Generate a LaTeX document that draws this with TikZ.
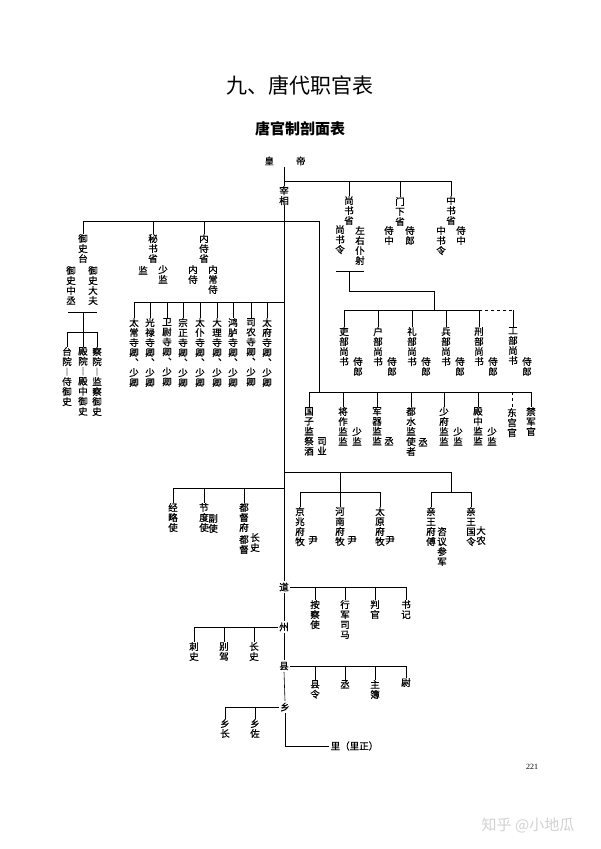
\documentclass[tikz,border=0pt]{standalone}
\usepackage{fontspec}
\setmainfont{Noto Sans CJK SC}
\newfontfamily\chartfont{Noto Sans CJK SC}[FakeBold=0.8]
\newfontfamily\numfont{Liberation Serif}
\tikzset{
  vt/.style={anchor=north, align=center, inner sep=0pt, yshift=5pt,
    font=\chartfont\fontsize{9.5}{10}\selectfont},
  hz/.style={inner sep=1.5pt, font=\chartfont\fontsize{9.5}{10}\selectfont},
  bar/.style={line width=0.6pt},
  trunk/.style={line width=1pt},
}
\begin{document}
\begin{tikzpicture}[x=1pt,y=-1pt]
	\useasboundingbox (0,0) rectangle (600,849);
	\fill[white] (0,0) rectangle (600,849);
	% titles
	\node[font=\fontsize{21}{21}\selectfont] (title) at (300,85) {九、唐代职官表};
	\node[font=\bfseries\fontsize{15}{15}\selectfont] (subtitle) at (300,129) {唐官制剖面表};
	% emperor and chancellor
	\node[hz] (huangdi) at (285,161) {皇\hspace{22pt}帝};
	\node[vt] (zaixiang) at (284,191) {宰\\相};
	\draw[trunk] (zaixiang.north |- huangdi.south) -- (zaixiang.north);
	% three departments
	\coordinate (sheng) at (284,181);
	\node[vt] (shangshu) at (349,201) {尚\\书\\省};
	\node[vt] (shangshuling) at (340,230) {尚\\书\\令};
	\node[vt] (puye) at (360,231) {左\\右\\仆\\射};
	\node[vt] (menxia) at (400,202) {门\\下\\省};
	\node[vt] (mx-shizhong) at (389,231) {侍\\中};
	\node[vt] (mx-shilang) at (410,231) {侍\\郎};
	\node[vt] (zhongshu) at (451,201) {中\\书\\省};
	\node[vt] (zhongshuling) at (441,231) {中\\书\\令};
	\node[vt] (zs-shizhong) at (461,231) {侍\\中};
	\draw[bar] (sheng) -- (zhongshu.north |- sheng) -- (zhongshu.north);
	\draw[bar] (shangshu.north |- sheng) -- (shangshu.north);
	\draw[bar] (menxia.north |- sheng) -- (menxia.north);
	% six ministries
	\coordinate (ssl) at (336,271);
	\coordinate (ssr) at (364,271);
	\coordinate (bubar) at (434,310);
	\draw[bar] (ssl) -- (ssr);
	\draw[bar] (shangshu.north |- ssl) -- ++(0,20) -| (bubar);
	\foreach \x/\a [count=\i] in {344/吏,378/户,412/礼,446/兵,479/刑,513/工} {
		\node[vt] (bu\i) at (\x,332) {\a\\部\\尚\\书};
		\node[vt] (shilang\i) at (\x+14,362) {侍\\郎};
	}
	\draw[bar] (bu1.north |- bubar) -- (bu5.north |- bubar);
	\draw[bar, dashed] (bu5.north |- bubar) -- (bu6.north |- bubar);
	\foreach \i in {1,...,6}
		\draw[bar] (bu\i.north |- bubar) -- (bu\i.north);
	% left branch under chancellor
	\coordinate (zuo) at (83,221);
	\coordinate (you) at (319,221);
	\node[vt] (yushitai) at (83,239) {御\\史\\台};
	\node[vt] (zhongcheng) at (71,271) {御\\史\\中\\丞};
	\node[vt] (dafu) at (93,271) {御\\史\\大\\夫};
	\node[vt] (mishu) at (153,239) {秘\\书\\省};
	\node[vt] (ms-jian) at (143,271) {监};
	\node[vt] (ms-shaojian) at (163,270) {少\\监};
	\node[vt] (neishi) at (204,239) {内\\侍\\省};
	\node[vt] (ns-neishi) at (193,270) {内\\侍};
	\node[vt] (changshi) at (213,270) {内\\常\\侍};
	\draw[bar] (yushitai.north) -- (zuo) -- (you);
	\draw[bar] (mishu.north |- zuo) -- (mishu.north);
	\draw[bar] (neishi.north |- zuo) -- (neishi.north);
	% three courts of the censorate
	\coordinate (ysl) at (68,312);
	\coordinate (ysr) at (97,312);
	\coordinate (yuanbar) at (83,332);
	\node[vt] (taiyuan) at (67,352) {台\\院\\︱\\侍\\御\\史};
	\node[vt] (dianyuan) at (83,352) {殿\\院\\︱\\殿\\中\\御\\史};
	\node[vt] (chayuan) at (97,352) {察\\院\\︱\\监\\察\\御\\史};
	\draw[bar] (ysl) -- (ysr);
	\draw[bar] (yuanbar |- ysl) -- (yuanbar);
	\draw[bar] (taiyuan.north |- yuanbar) -- (chayuan.north |- yuanbar);
	\foreach \n in {taiyuan,dianyuan,chayuan}
		\draw[bar] (\n.north |- yuanbar) -- (\n.north);
	% nine courts
	\coordinate (sibar) at (284,302);
	\foreach \x/\a/\b [count=\i] in {134/太/常,150/光/禄,167/卫/尉,183/宗/正,200/太/仆,217/大/理,233/鸿/胪,251/司/农,267/太/府} {
		\node[vt] (si\i) at (\x,323) {\a\\\b\\寺\\卿\\︑\\少\\卿};
		\draw[bar] (si\i.north |- sibar) -- (si\i.north);
	}
	\draw[bar] (si1.north |- sibar) -- (sibar);
	% directorates
	\coordinate (jianbar) at (309,392);
	\node[vt] (guozi) at (309,412) {国\\子\\监\\祭\\酒};
	\node[vt] (siye) at (322,442) {司\\业};
	\node[vt] (jiangzuo) at (343,412) {将\\作\\监\\监};
	\node[vt] (jz-shao) at (357,432) {少\\监};
	\node[vt] (junqi) at (377,412) {军\\器\\监\\监};
	\node[vt] (jq-cheng) at (389,442) {丞};
	\node[vt] (dushui) at (411,412) {都\\水\\监\\使\\者};
	\node[vt] (ds-cheng) at (423,443) {丞};
	\node[vt] (shaofu) at (444,412) {少\\府\\监\\监};
	\node[vt] (sf-shao) at (458,432) {少\\监};
	\node[vt] (dianzhong) at (478,412) {殿\\中\\监\\监};
	\node[vt] (dz-shao) at (492,432) {少\\监};
	\node[vt] (donggong) at (512,413) {东\\宫\\官};
	\node[vt] (jinjun) at (531,412) {禁\\军\\官};
	\draw[bar] (you) -- (you |- jianbar);
	\draw[bar] (guozi.north |- jianbar) -- (jinjun.north |- jianbar);
	\foreach \n in {guozi,jiangzuo,junqi,dushui,shaofu,dianzhong,jinjun}
		\draw[bar] (\n.north |- jianbar) -- (\n.north);
	\draw[bar, dashed] (donggong.north |- jianbar) -- (donggong.north);
	% capital prefectures and princes
	\coordinate (fubar) at (284,472);
	\coordinate (fu) at (340,492);
	\coordinate (wang) at (451,492);
	\node[vt] (jingzhao) at (300,512) {京\\兆\\府\\牧};
	\node[vt] (jz-yin) at (313,541) {尹};
	\node[vt] (henan) at (340,512) {河\\南\\府\\牧};
	\node[vt] (hn-yin) at (352,541) {尹};
	\node[vt] (taiyuanfu) at (380,512) {太\\原\\府\\牧};
	\node[vt] (ty-yin) at (390,541) {尹};
	\node[vt] (wangfu) at (431,512) {亲\\王\\府\\傅};
	\node[vt] (ziyi) at (442,532) {咨\\议\\参\\军};
	\node[vt] (wangguo) at (471,512) {亲\\王\\国\\令};
	\node[vt] (danong) at (481,531) {大\\农};
	\draw[bar] (fubar) -| (wang);
	\draw[bar] (fu |- fubar) -- (fu);
	\draw[bar] (jingzhao.north |- fu) -- (taiyuanfu.north |- fu);
	\draw[bar] (wangfu.north |- wang) -- (wangguo.north |- wang);
	\foreach \n in {jingzhao,henan,taiyuanfu,wangfu,wangguo}
		\draw[bar] (\n.north |- fu) -- (\n.north);
	% military commissioners
	\coordinate (jiedubar) at (284,488);
	\node[vt] (jinglue) at (173,508) {经\\略\\使};
	\node[vt] (jiedu) at (204,508) {节\\度\\使};
	\node[vt] (fushi) at (213,519) {副\\使};
	\node[vt] (dudufu) at (244,508) {都\\督\\府};
	\node[vt] (dudu) at (244,540) {都\\督};
	\node[vt] (df-zhangshi) at (255,538) {长\\史};
	\draw[bar] (jinglue.north |- jiedubar) -- (jiedubar);
	\foreach \n in {jinglue,jiedu,dudufu}
		\draw[bar] (\n.north |- jiedubar) -- (\n.north);
	% local administration
	\node[hz] (dao) at (284,587) {道};
	\node[hz] (zhou) at (284,627) {州};
	\node[hz] (xian) at (284,666) {县};
	\node[hz] (xiang) at (285,707) {乡};
	\node[hz, anchor=west] (li) at (329,746) {里（里正）};
	\draw[trunk] (zaixiang.south) -- (dao.north);
	\draw[trunk] (dao.south) -- (zhou.north);
	\draw[trunk] (zhou.south) -- (xian.north);
	\draw[bar] (xian.south) -- (xiang.north);
	\draw[bar] (xiang.south) |- (li.west);
	% circuit
	\node[vt] (ancha) at (315,605) {按\\察\\使};
	\node[vt] (xingjun) at (345,605) {行\\军\\司\\马};
	\node[vt] (panguan) at (375,605) {判\\官};
	\node[vt] (shuji) at (406,605) {书\\记};
	\draw[bar] (dao.east) -- (shuji.north |- dao.east) -- (shuji.north);
	\foreach \n in {ancha,xingjun,panguan}
		\draw[bar] (\n.north |- dao.east) -- (\n.north);
	% prefecture
	\node[vt] (cishi) at (194,647) {刺\\史};
	\node[vt] (biejia) at (224,647) {别\\驾};
	\node[vt] (zh-zhangshi) at (254,647) {长\\史};
	\draw[bar] (zhou.west) -- (cishi.north |- zhou.west) -- (cishi.north);
	\foreach \n in {biejia,zh-zhangshi}
		\draw[bar] (\n.north |- zhou.west) -- (\n.north);
	% county
	\node[vt] (xianling) at (315,685) {县\\令};
	\node[vt] (xn-cheng) at (345,685) {丞};
	\node[vt] (zhubu) at (375,685) {主\\簿};
	\node[vt] (wei) at (406,683) {尉};
	\draw[bar] (xian.east) -- (wei.north |- xian.east) -- (wei.north);
	\foreach \n in {xianling,xn-cheng,zhubu}
		\draw[bar] (\n.north |- xian.east) -- (\n.north);
	% township
	\node[vt] (xiangzhang) at (225,724) {乡\\长};
	\node[vt] (xiangzuo) at (255,724) {乡\\佐};
	\draw[bar] (xiang.west) -- (xiangzhang.north |- xiang.west) -- (xiangzhang.north);
	\draw[bar] (xiangzuo.north |- xiang.west) -- (xiangzuo.north);
	% page number and mark
	\node[font=\numfont\fontsize{8}{8}\selectfont] (page) at (532,767) {221};
	\node[text=gray!35, font=\fontsize{15}{15}\selectfont] (mark) at (528,825) {知乎 @小地瓜};
\end{tikzpicture}
\end{document}
